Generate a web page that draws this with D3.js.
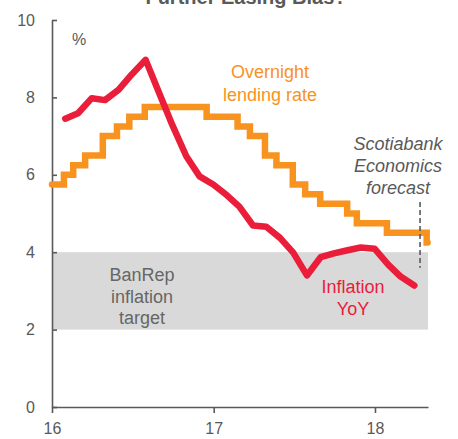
<!DOCTYPE html>
<html>
    <head>
        <meta charset="utf-8">
        <title>Further Easing Bias?</title>
        <script src="https://d3js.org/d3.v7.min.js"></script>
        <style>
            body {margin:0; background:#fff;}
            text {font-family:"Liberation Sans", Arial, sans-serif;}
        </style>
    </head>
    <body>
        <svg id="chart" width="458" height="439"></svg>

        <script>
            "use strict";

            // overnight lending rate, step changes (date of change, new level)
            const rateDates = ["2016-01-01","2016-01-28","2016-02-18","2016-03-16","2016-04-25","2016-05-27",
                "2016-06-24","2016-07-29","2016-12-16","2017-02-24","2017-03-24","2017-04-27","2017-05-23",
                "2017-06-29","2017-07-27","2017-08-30","2017-10-30","2017-11-21","2018-01-28","2018-04-28","2018-04-30"];
            const rateValues = [5.75,6.0,6.25,6.5,7.0,7.25,7.5,7.75,7.5,7.25,7.0,6.5,6.25,5.75,5.5,5.25,5.0,4.75,4.5,4.25,4.25];

            // inflation YoY, monthly
            const inflMonths = ["2016-01","2016-02","2016-03","2016-04","2016-05","2016-06","2016-07","2016-08",
                "2016-09","2016-10","2016-11","2016-12","2017-01","2017-02","2017-03","2017-04","2017-05","2017-06",
                "2017-07","2017-08","2017-09","2017-10","2017-11","2017-12","2018-01","2018-02","2018-03"];
            const inflValues = [7.45,7.59,7.98,7.93,8.20,8.60,8.97,8.10,7.27,6.48,5.96,5.75,
                5.47,5.18,4.69,4.66,4.37,3.99,3.40,3.87,3.97,4.05,4.12,4.09,3.68,3.37,3.14];

            const targetRange = [2, 4];
            const forecastDate = "2018-04-13";
            const forecastSpan = [5.3, 3.6];
            const yTicks = [0, 2, 4, 6, 8, 10];
            const xTickYears = ["2016", "2017", "2018"];

            const svg = d3.select("#chart");
            const parseDay = d3.utcParse("%Y-%m-%d");
            const parseMonth = d3.utcParse("%Y-%m");
            const parseYear = d3.utcParse("%Y");

            const xScale = d3.scaleUtc()
                .domain([parseDay("2016-01-01"), parseDay("2018-05-01")])
                .range([52, 428]);
            const yScale = d3.scaleLinear()
                .domain([0, 10])
                .range([407, 20]);

            const grey = "#595959";
            const orange = "#f7931e";
            const red = "#ea1d3b";

            // title, cut off at the top
            svg.append("text")
                .attr("x", 246).attr("y", 4)
                .attr("text-anchor", "middle")
                .attr("font-size", 20).attr("font-weight", "bold")
                .attr("fill", grey)
                .text("Further Easing Bias?");

            // target band
            svg.append("rect")
                .attr("x", xScale.range()[0])
                .attr("y", yScale(targetRange[1]))
                .attr("width", xScale.range()[1] - xScale.range()[0])
                .attr("height", yScale(targetRange[0]) - yScale(targetRange[1]))
                .attr("fill", "#d9d9d9");

            // axes
            const yAxis = d3.axisLeft(yScale)
                .tickValues(yTicks)
                .tickSizeInner(-5)
                .tickSizeOuter(0)
                .tickPadding(17);
            const gy = svg.append("g")
                .attr("transform", `translate(${xScale.range()[0]},0)`)
                .call(yAxis);

            const xAxis = d3.axisBottom(xScale)
                .tickValues(xTickYears.map(parseYear))
                .tickFormat(d3.utcFormat("%y"))
                .tickSizeInner(6)
                .tickSizeOuter(0)
                .tickPadding(10);
            const gx = svg.append("g")
                .attr("transform", `translate(0,${yScale(0)})`)
                .call(xAxis);

            [gx, gy].forEach(g => {
                g.selectAll("path, line").attr("stroke", grey).attr("stroke-width", 1.6);
                g.selectAll("text").attr("fill", grey).attr("font-size", 16)
                    .attr("font-family", "Liberation Sans, Arial, sans-serif");
            });

            svg.append("text")
                .attr("x", 72).attr("y", 45)
                .attr("font-size", 16).attr("fill", grey)
                .text("%");

            // lending rate
            const rateData = rateDates.map((d, i) => ({date: parseDay(d), value: rateValues[i]}));
            svg.append("path")
                .datum(rateData)
                .attr("fill", "none")
                .attr("stroke", orange)
                .attr("stroke-width", 6.5)
                .attr("stroke-linecap", "round")
                .attr("d", d3.line()
                    .x(d => xScale(d.date))
                    .y(d => yScale(d.value))
                    .curve(d3.curveStepAfter));

            // inflation, plotted at month end
            const inflData = inflMonths.map((m, i) => ({
                date: d3.utcDay.offset(d3.utcMonth.offset(parseMonth(m), 1), -1),
                value: inflValues[i]
            }));
            svg.append("path")
                .datum(inflData)
                .attr("fill", "none")
                .attr("stroke", red)
                .attr("stroke-width", 6.5)
                .attr("stroke-linecap", "round")
                .attr("stroke-linejoin", "round")
                .attr("d", d3.line()
                    .x(d => xScale(d.date))
                    .y(d => yScale(d.value)));

            // forecast marker
            svg.append("line")
                .attr("x1", xScale(parseDay(forecastDate)))
                .attr("x2", xScale(parseDay(forecastDate)))
                .attr("y1", yScale(forecastSpan[0]))
                .attr("y2", yScale(forecastSpan[1]))
                .attr("stroke", grey)
                .attr("stroke-width", 1.6)
                .attr("stroke-dasharray", "5,3");

            // labels
            function label(lines, x, y, gap, color, style) {
                const t = svg.append("text")
                    .attr("text-anchor", "middle")
                    .attr("font-size", 18)
                    .attr("fill", color)
                    .attr("font-style", style || "normal");
                lines.forEach((s, i) => {
                    t.append("tspan").attr("x", x).attr("y", y + i * gap).text(s);
                });
            }
            label(["Overnight", "lending rate"], 270, 78, 23, orange);
            label(["Scotiabank", "Economics", "forecast"], 398, 150, 22, grey, "italic");
            label(["BanRep", "inflation", "target"], 142, 281, 21.5, "#666666");
            label(["Inflation", "YoY"], 353, 293, 21.5, red);
        </script>
    </body>
</html>
